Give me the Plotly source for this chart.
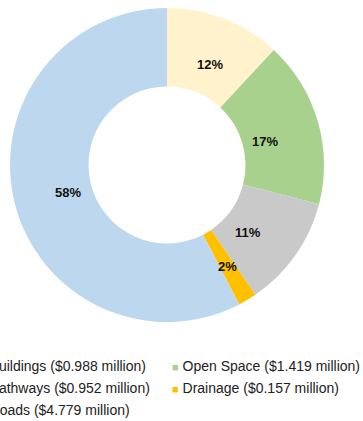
import math
import plotly.graph_objects as go

# Project cost breakdown (millions of dollars)
categories = ["Buildings", "Open Space", "Pathways", "Drainage", "Roads"]
costs = [0.988, 1.419, 0.952, 0.157, 4.779]
colors = ["#FFF2CC", "#A9D18E", "#C9C9C9", "#FFC000", "#BDD7EE"]

legend_names = [f"{c} (${v:.3f} million)" for c, v in zip(categories, costs)]

W, H = 363, 421
# donut placement in pixels (centre and outer radius)
cx, cy, radius = 167, 165, 157
hole = 0.5
dom_x = [(cx - radius) / W, (cx + radius) / W]
dom_y = [(H - cy - radius) / H, (H - cy + radius) / H]

fig = go.Figure(
    go.Pie(
        labels=legend_names,
        values=costs,
        hole=hole,
        sort=False,
        direction="clockwise",
        rotation=0,
        marker=dict(colors=colors, line=dict(width=0)),
        textinfo="none",
        domain=dict(x=dom_x, y=dom_y),
        hoverinfo="label+percent",
        showlegend=False,
    )
)

# percentage labels placed at the middle of each ring segment
total = sum(costs)
mid_r = radius * (1 + hole) / 2
cum = 0.0
for v in costs:
    frac = v / total
    ang = 2 * math.pi * (cum + frac / 2)
    cum += frac
    px = cx + mid_r * math.sin(ang)
    py = cy - mid_r * math.cos(ang)
    fig.add_annotation(
        x=px / W,
        y=1 - py / H,
        xref="paper",
        yref="paper",
        text=f"<b>{frac * 100:.0f}%</b>",
        showarrow=False,
        font=dict(family="Liberation Sans", size=13, color="#111111"),
    )

# two-column key below the ring, filled row by row
col_left = [-23, 170]      # left edge of each key column (px)
row_mid = [366, 388, 410]  # vertical centre of each key row (px)
for i, (name, col) in enumerate(zip(legend_names, colors)):
    r, c = divmod(i, 2)
    fig.add_annotation(
        x=col_left[c] / W,
        y=1 - row_mid[r] / H,
        xref="paper",
        yref="paper",
        xanchor="left",
        yanchor="middle",
        showarrow=False,
        align="left",
        text=f'<span style="color:{col};font-size:11px">■</span> {name}',
        font=dict(family="Liberation Sans", size=14, color="#222222"),
    )

fig.update_layout(
    width=W,
    height=H,
    margin=dict(l=0, r=0, t=0, b=0, autoexpand=False),
    paper_bgcolor="white",
    plot_bgcolor="white",
    font=dict(family="Liberation Sans", color="#222222"),
    showlegend=False,
)

fig.write_html("out.html")
